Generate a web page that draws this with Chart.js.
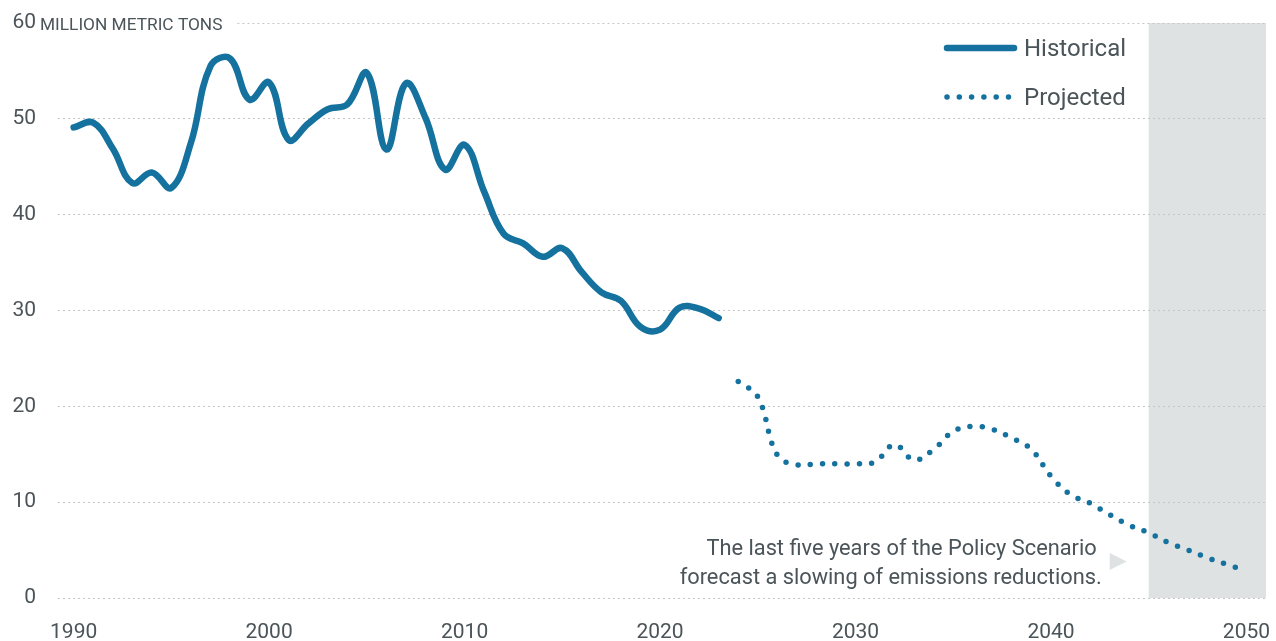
<!DOCTYPE html>
<html>
<head>
<meta charset="utf-8">
<script src="https://cdn.jsdelivr.net/npm/chart.js@4.4.1/dist/chart.umd.min.js"></script>
<style>
  html, body { margin: 0; padding: 0; background: #fff; }
</style>
</head>
<body>
<canvas id="emissionsChart" width="1276" height="641"></canvas>
<script>
// Emissions, million metric tons: historical series and policy projection

const historicalYears = [1990, 1991, 1992, 1993, 1994, 1995, 1996, 1997, 1998, 1999,
  2000, 2001, 2002, 2003, 2004, 2005, 2006, 2007, 2008, 2009,
  2010, 2011, 2012, 2013, 2014, 2015, 2016, 2017, 2018, 2019,
  2020, 2021, 2022, 2023];
const historicalValues = [49.1, 49.6, 46.9, 43.3, 44.4, 42.8, 47.5, 55.5, 56.3, 52.0,
  53.8, 47.8, 49.5, 51.0, 51.5, 54.8, 46.8, 53.7, 50.1, 44.7,
  47.3, 42.4, 38.0, 37.0, 35.6, 36.5, 34.0, 31.9, 31.0, 28.3,
  28.0, 30.3, 30.2, 29.2];

const projectedYears = [2024, 2025, 2026, 2027, 2028, 2029, 2030, 2031, 2032, 2033,
  2034, 2035, 2036, 2037, 2038, 2039, 2040, 2041, 2042, 2043,
  2044, 2045, 2046, 2047, 2048, 2049, 2050];
const projectedValues = [22.6, 21.0, 14.9, 13.9, 14.0, 14.0, 14.0, 14.2, 16.0, 14.4,
  15.5, 17.4, 17.9, 17.6, 16.7, 15.5, 12.7, 10.8, 9.9, 8.7,
  7.6, 6.8, 5.8, 5.0, 4.2, 3.5, 2.8];

const xTickYears = [1990, 2000, 2010, 2020, 2030, 2040, 2050];
const yTicks = [0, 10, 20, 30, 40, 50, 60];
const unitLabel = 'MILLION METRIC TONS';
const shadeFrom = 2045;
const noteLines = ['The last five years of the Policy Scenario',
  'forecast a slowing of emissions reductions.'];

const lineBlue = '#15719e';
const textGray = '#4a5459';
const gridGray = '#c4c6c7';
const shadeGray = '#dfe2e3';
const fontFamily = 'Roboto, "Open Sans", sans-serif';

const toPoints = (xs, ys) => xs.map((x, i) => ({ x: x, y: ys[i] }));

// grey band for the last five years, drawn under the grid
const shadeBand = {
  id: 'shadeBand',
  beforeDraw(chart) {
    const { ctx, chartArea, scales } = chart;
    const x0 = scales.x.getPixelForValue(shadeFrom);
    ctx.save();
    ctx.fillStyle = shadeGray;
    ctx.fillRect(x0, chartArea.top, chartArea.right - x0, chartArea.bottom - chartArea.top);
    ctx.restore();
  }
};

// unit label next to the top tick, legend and the note
const extras = {
  id: 'extras',
  beforeDatasetsDraw(chart) {
    const { ctx, chartArea, scales } = chart;
    const yTop = scales.y.getPixelForValue(60);
    ctx.save();
    ctx.font = '17.3px ' + fontFamily;
    ctx.fillStyle = textGray;
    ctx.textAlign = 'left';
    ctx.textBaseline = 'alphabetic';
    const tx = chartArea.left - 18;
    ctx.fillText(unitLabel, tx, yTop + 6.5);
    const endX = tx + ctx.measureText(unitLabel).width + 15;
    ctx.strokeStyle = gridGray;
    ctx.lineWidth = 1;
    ctx.setLineDash([2, 3]);
    ctx.beginPath();
    ctx.moveTo(endX, yTop + 0.5);
    ctx.lineTo(chartArea.right, yTop + 0.5);
    ctx.stroke();
    ctx.restore();
  },
  afterDraw(chart) {
    const { ctx, scales } = chart;
    const sets = chart.data.datasets;
    ctx.save();

    // legend
    ctx.strokeStyle = lineBlue;
    ctx.lineCap = 'round';
    ctx.lineWidth = 6.5;
    ctx.beginPath();
    ctx.moveTo(947, 48);
    ctx.lineTo(1014, 48);
    ctx.stroke();
    ctx.lineWidth = 5.5;
    ctx.setLineDash([0, 12.3]);
    ctx.beginPath();
    ctx.moveTo(947, 97);
    ctx.lineTo(1010, 97);
    ctx.stroke();
    ctx.setLineDash([]);
    ctx.font = '24px ' + fontFamily;
    ctx.fillStyle = textGray;
    ctx.textBaseline = 'middle';
    ctx.textAlign = 'left';
    ctx.fillText(sets[0].label, 1024, 50);
    ctx.fillText(sets[1].label, 1024, 99);

    // note with pointer into the shaded band
    const x0 = scales.x.getPixelForValue(shadeFrom);
    ctx.font = '21.8px ' + fontFamily;
    ctx.textAlign = 'right';
    ctx.fillText(noteLines[0], x0 - 52, 550);
    ctx.fillText(noteLines[1], x0 - 47, 579);
    ctx.fillStyle = shadeGray;
    ctx.beginPath();
    ctx.moveTo(x0 - 39, 553);
    ctx.lineTo(x0 - 39, 570);
    ctx.lineTo(x0 - 22, 561.5);
    ctx.closePath();
    ctx.fill();
    ctx.restore();
  }
};

const ctx = document.getElementById('emissionsChart').getContext('2d');
new Chart(ctx, {
  type: 'line',
  data: {
    datasets: [
      {
        label: 'Historical',
        data: toPoints(historicalYears, historicalValues),
        borderColor: lineBlue,
        borderWidth: 6.5,
        borderCapStyle: 'round',
        borderJoinStyle: 'round',
        pointRadius: 0,
        tension: 0.4,
        fill: false
      },
      {
        label: 'Projected',
        data: toPoints(projectedYears, projectedValues),
        borderColor: lineBlue,
        borderWidth: 5.5,
        borderDash: [0, 12.3],
        borderCapStyle: 'round',
        pointRadius: 0,
        tension: 0.4,
        fill: false
      }
    ]
  },
  options: {
    responsive: false,
    animation: false,
    layout: { padding: { top: 23, right: 10, left: 0, bottom: 0 } },
    plugins: {
      legend: { display: false },
      tooltip: { enabled: false }
    },
    scales: {
      x: {
        type: 'linear',
        min: 1989.2,
        max: 2051,
        grid: { display: false },
        border: { display: false },
        afterBuildTicks: (scale) => { scale.ticks = xTickYears.map(v => ({ value: v })); },
        afterFit: (scale) => {
          scale.height = 43;
          scale.paddingLeft = 0;
          scale.paddingRight = 0;
        },
        ticks: {
          color: textGray,
          font: { family: fontFamily, size: 21 },
          padding: 14,
          maxRotation: 0,
          autoSkip: false,
          callback: (v) => String(v)
        }
      },
      y: {
        min: 0,
        max: 60,
        afterBuildTicks: (scale) => { scale.ticks = yTicks.map(v => ({ value: v })); },
        afterFit: (scale) => {
          scale.width = 58;
          scale.paddingTop = 0;
          scale.paddingBottom = 0;
        },
        grid: {
          drawTicks: false,
          lineWidth: 1,
          color: (c) => (c.tick && c.tick.value === 60 ? 'rgba(0,0,0,0)' : gridGray)
        },
        border: { display: false, dash: [2, 3] },
        ticks: {
          color: textGray,
          font: { family: fontFamily, size: 21 },
          padding: 22,
          callback: (v) => String(v)
        }
      }
    }
  },
  plugins: [shadeBand, extras]
});
</script>
</body>
</html>
